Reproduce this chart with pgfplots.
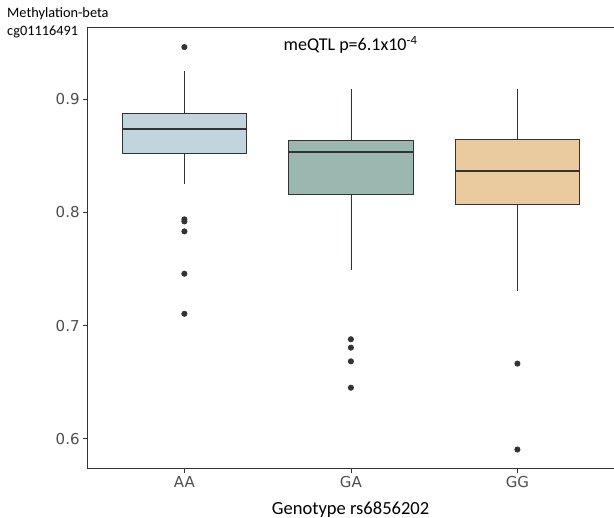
\documentclass[border=0pt]{standalone}
\usepackage{pgfplots}
\pgfplotsset{compat=1.18}
\usepgfplotslibrary{statistics}
\usepackage{fontspec}
\setmainfont{Carlito}
\newfontfamily\tickfont{DejaVu Sans}
\definecolor{boxAA}{HTML}{C1D5DE}
\definecolor{boxGA}{HTML}{9AB8B0}
\definecolor{boxGG}{HTML}{EACBA0}
\definecolor{edge}{HTML}{333333}
\definecolor{ticktext}{HTML}{4D4D4D}
\begin{document}
\begin{tikzpicture}
\begin{axis}[
  scale only axis, width=526pt, height=441pt,
  xmin=0.416, xmax=3.58, ymin=0.5735, ymax=0.9637,
  axis x line*=bottom, axis y line*=left,
  axis line style={-, draw=edge, line width=0.9pt},
  xtick={1,2,3}, xticklabels={AA,GA,GG},
  ytick={0.6,0.7,0.8,0.9},
  yticklabel style={/pgf/number format/.cd, fixed, fixed zerofill, precision=1},
  /pgf/number format/assume math mode=true,
  tick label style={font=\tickfont\fontsize{15}{18}\selectfont, text=ticktext},
  tick align=outside, major tick length=4pt,
  tick style={draw=edge, line width=0.8pt},
  xlabel={Genotype rs6856202},
  xlabel style={font=\fontsize{18.5}{22}\selectfont, yshift=-7pt},
  clip=false,
  boxplot/draw direction=y,
  boxplot/box extend=0.75,
  boxplot/whisker extend=0,
  boxplot/every median/.style={line width=2pt},
]
\addplot+[boxplot prepared={draw position=1, lower whisker=0.8254, lower quartile=0.8525,
    median=0.8732, upper quartile=0.8876, upper whisker=0.925},
  draw=edge, line width=0.8pt, fill=boxAA, solid,
  mark=*, mark size=2.6pt, mark options={fill=edge, draw=edge}]
  table[row sep=\\, y index=0] {0.946\\ 0.7938\\ 0.7920\\ 0.7832\\ 0.7458\\ 0.7104\\};
\addplot+[boxplot prepared={draw position=2, lower whisker=0.7493, lower quartile=0.8162,
    median=0.8537, upper quartile=0.8637, upper whisker=0.9088},
  draw=edge, line width=0.8pt, fill=boxGA, solid,
  mark=*, mark size=2.6pt, mark options={fill=edge, draw=edge}]
  table[row sep=\\, y index=0] {0.6879\\ 0.6805\\ 0.6684\\ 0.6451\\};
\addplot+[boxplot prepared={draw position=3, lower whisker=0.7304, lower quartile=0.8068,
    median=0.8369, upper quartile=0.8643, upper whisker=0.9088},
  draw=edge, line width=0.8pt, fill=boxGG, solid,
  mark=*, mark size=2.6pt, mark options={fill=edge, draw=edge}]
  table[row sep=\\, y index=0] {0.6664\\ 0.5905\\};
\draw[draw=edge, line width=0.9pt] (rel axis cs:0,1) -- (rel axis cs:1,1);
\node[font=\fontsize{18}{21}\selectfont, anchor=center] at ([yshift=-18pt]rel axis cs:0.5,1) {meQTL p=6.1x10\textsuperscript{-4}};
\node[font=\fontsize{14.3}{17}\selectfont, anchor=north west, align=left, inner sep=0pt] at ([xshift=-80pt, yshift=20pt]rel axis cs:0,1) {Methylation-beta\\[1pt]cg01116491};
\coordinate (sw) at (rel axis cs:0,0);
\coordinate (ne) at (rel axis cs:1,1);
\end{axis}
\pgfresetboundingbox
\path ([xshift=-87pt, yshift=-49pt]sw) rectangle ([xshift=0pt, yshift=27pt]ne);
\end{tikzpicture}
\end{document}
